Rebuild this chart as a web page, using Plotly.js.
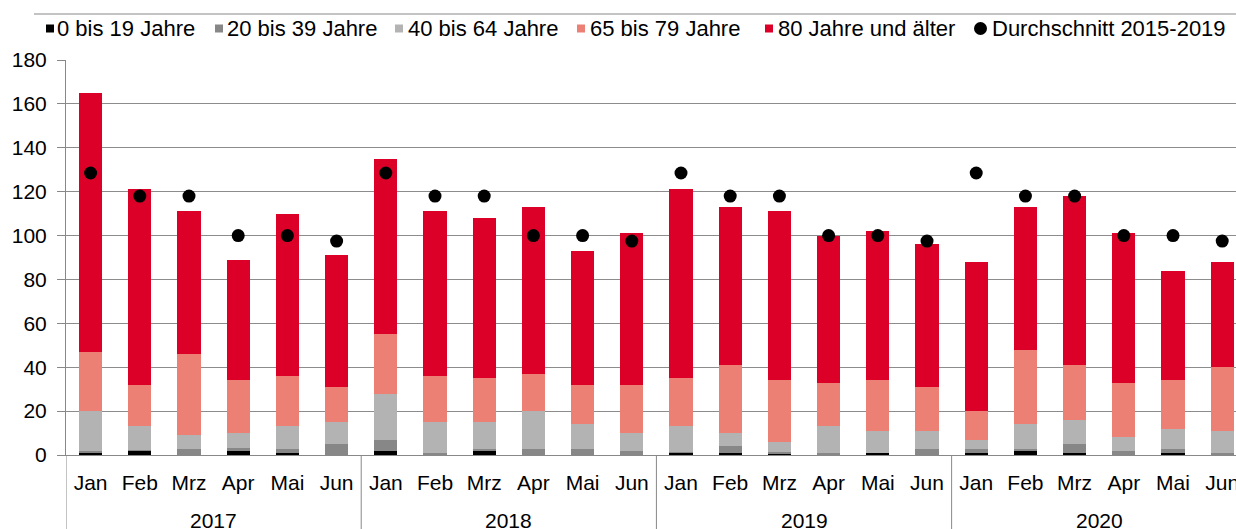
<!DOCTYPE html>
<html>
<head>
<meta charset="utf-8">
<script src="https://cdn.plot.ly/plotly-3.0.1.min.js"></script>
<style>
  html, body { margin: 0; padding: 0; background: #fff; }
  #chart { width: 1236px; height: 529px; }
</style>
</head>
<body>
<div id="chart"></div>
<script>
// ---- Data ----
const years = ['2017','2017','2017','2017','2017','2017',
               '2018','2018','2018','2018','2018','2018',
               '2019','2019','2019','2019','2019','2019',
               '2020','2020','2020','2020','2020','2020'];
const months = ['Jan','Feb','Mrz','Apr','Mai','Jun',
                'Jan','Feb','Mrz','Apr','Mai','Jun',
                'Jan','Feb','Mrz','Apr','Mai','Jun',
                'Jan','Feb','Mrz','Apr','Mai','Jun'];

const age0_19  = [1, 2, 0, 2, 0.8, 0,   1.8, 0, 1.8, 0, 0, 0,   0.9, 1, 0.3, 0, 0.9, 0,   0.8, 1.8, 0.9, 0, 0.9, 0];
const age20_39 = [1, 0.3, 2.7, 1, 2, 5,   5.2, 1, 1, 2.7, 2.7, 1.8,   0.3, 2.9, 0.9, 0.9, 0, 2.7,   2, 0.9, 4, 1.8, 1.8, 0.9];
const age40_64 = [18, 10.7, 6.3, 7, 10.2, 10,   21, 14, 12.2, 17.3, 11.3, 8.2,   11.8, 6.1, 4.8, 12.1, 10.1, 8.3,   4.2, 11.3, 11.1, 6.2, 9.3, 10.1];
const age65_79 = [27, 19, 37, 24, 23, 16,   27, 21, 20, 17, 18, 22,   22, 31, 28, 20, 23, 20,   13, 34, 25, 25, 22, 29];
const age80    = [118, 89, 65, 55, 74, 60,   80, 75, 73, 76, 61, 69,   86, 72, 77, 67, 68, 65,   68, 65, 77, 68, 50, 48];
const avg2015_2019 = [128.5, 118, 118, 100, 100, 97.5,   128.5, 118, 118, 100, 100, 97.5,
                      128.5, 118, 118, 100, 100, 97.5,   128.5, 118, 118, 100, 100, 97.5];

const seriesNames = ['0 bis 19 Jahre','20 bis 39 Jahre','40 bis 64 Jahre','65 bis 79 Jahre','80 Jahre und älter'];
const seriesColors = ['#000000','#878787','#b3b3b3','#ec8074','#dc0028'];
const avgName = 'Durchschnitt 2015-2019';

// ---- Categories (unique keys, month shown as tick text) ----
const cats = years.map((y, i) => y + ' ' + months[i]);

// ---- Traces ----
const barData = [age0_19, age20_39, age40_64, age65_79, age80];
const traces = barData.map((vals, i) => ({
  type: 'bar', x: cats, y: vals, name: seriesNames[i],
  marker: { color: seriesColors[i], line: { width: 0 } }
}));
traces.push({
  type: 'scatter', mode: 'markers', x: cats, y: avg2015_2019, name: avgName,
  marker: { color: '#000000', size: 13, symbol: 'circle' }
});

// ---- Layout helpers (pixel -> paper) ----
const L = 66, R = 0, T = 60, B = 74, W = 1236, H = 529;
const pw = W - L - R, ph = H - T - B;
const px = p => (p - L) / pw;
const py = p => (H - B - p) / ph;

const FONT = 'Liberation Sans, Arial, sans-serif';
const AXC = '#888888';
const legendY = 28.5;
const legendItems = [
  { sq: 46,  tx: 55,  color: seriesColors[0], text: seriesNames[0], kind: 'rect' },
  { sq: 215, tx: 225, color: seriesColors[1], text: seriesNames[1], kind: 'rect' },
  { sq: 395, tx: 406, color: seriesColors[2], text: seriesNames[2], kind: 'rect' },
  { sq: 577, tx: 588, color: seriesColors[3], text: seriesNames[3], kind: 'rect' },
  { sq: 765, tx: 776, color: seriesColors[4], text: seriesNames[4], kind: 'rect' },
  { sq: 974, tx: 990, color: '#000000',       text: avgName,        kind: 'circle' }
];
const shapes = [
  { type: 'line', xref: 'paper', yref: 'paper', x0: px(34), x1: px(1236), y0: py(14), y1: py(14),
    line: { color: AXC, width: 1 } }
];
const annotations = [];
legendItems.forEach(it => {
  if (it.kind === 'rect') {
    shapes.push({ type: 'rect', xref: 'paper', yref: 'paper',
      x0: px(it.sq), x1: px(it.sq + 8), y0: py(legendY + 4), y1: py(legendY - 4),
      fillcolor: it.color, line: { width: 0 } });
  } else {
    shapes.push({ type: 'circle', xref: 'paper', yref: 'paper',
      x0: px(it.sq), x1: px(it.sq + 13), y0: py(legendY + 6.5), y1: py(legendY - 6.5),
      fillcolor: it.color, line: { width: 0 } });
  }
  annotations.push({ xref: 'paper', yref: 'paper', x: px(it.tx), y: py(legendY),
    xanchor: 'left', yanchor: 'middle', showarrow: false, text: it.text,
    font: { family: FONT, size: 22, color: '#000' } });
});

// ---- Year group labels and dividers, derived from the years array ----
const groups = [];
years.forEach((y, i) => {
  if (!groups.length || groups[groups.length - 1].year !== y) groups.push({ year: y, start: i, end: i });
  else groups[groups.length - 1].end = i;
});
groups.forEach(g => {
  shapes.push({ type: 'line', xref: 'x', yref: 'paper',
    x0: g.start - 0.5, x1: g.start - 0.5, y0: 0, y1: py(H),
    line: { color: AXC, width: 1 } });
  annotations.push({ xref: 'x', yref: 'paper', x: (g.start + g.end) / 2, y: py(520),
    xanchor: 'center', yanchor: 'middle', showarrow: false, text: g.year,
    font: { family: FONT, size: 21, color: '#000' } });
});

const layout = {
  width: W, height: H,
  margin: { l: L, r: R, t: T, b: B, pad: 0 },
  paper_bgcolor: '#ffffff', plot_bgcolor: '#ffffff',
  font: { family: FONT, size: 21, color: '#000' },
  showlegend: false,
  barmode: 'stack', bargap: 0.53,
  xaxis: {
    type: 'category',
    range: [-0.5, 23.28],
    tickmode: 'array', tickvals: cats, ticktext: months,
    showline: true, linecolor: AXC, linewidth: 1,
    ticks: '', showgrid: false,
    ticklabelstandoff: 9,
    tickfont: { family: FONT, size: 21, color: '#000' }
  },
  yaxis: {
    range: [0, 180], dtick: 20, tick0: 0,
    showline: true, linecolor: AXC, linewidth: 1,
    ticks: 'outside', ticklen: 8, tickcolor: AXC,
    showgrid: true, gridcolor: '#8c8c8c', gridwidth: 1,
    zeroline: false,
    ticklabelstandoff: 6,
    tickfont: { family: FONT, size: 21, color: '#000' }
  },
  shapes: shapes,
  annotations: annotations
};

Plotly.newPlot('chart', traces, layout, { displayModeBar: false, staticPlot: true });
</script>
</body>
</html>
